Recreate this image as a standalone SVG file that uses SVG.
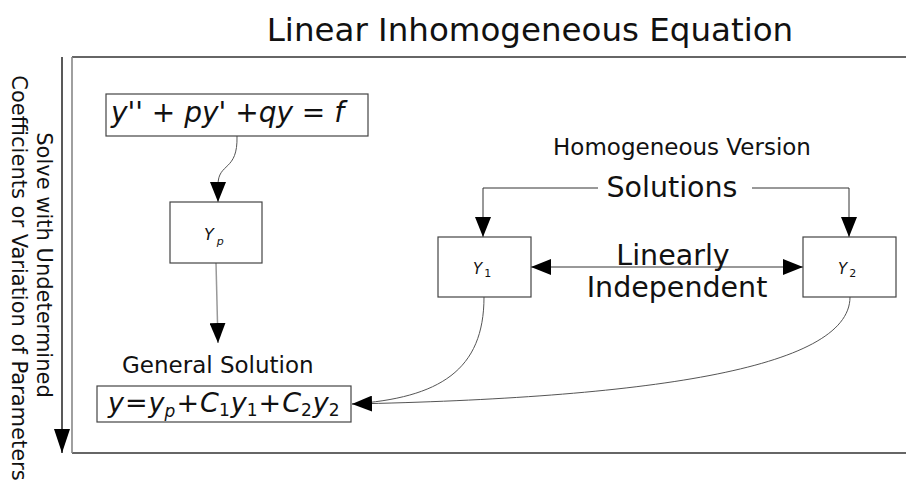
<svg xmlns="http://www.w3.org/2000/svg" width="906" height="491" viewBox="0 0 906 491">
<style>
text{font-family:"DejaVu Sans","Liberation Sans",sans-serif;fill:#111}
.box{fill:#fff;stroke:#444;stroke-width:1.2}
.ln{fill:none;stroke:#333;stroke-width:1}
.cv{fill:none;stroke:#555;stroke-width:1}
.it{font-style:italic}
.big{font-size:28.5px}
.sub{font-size:17px;font-style:normal}
.subi{font-size:17px;font-style:italic}
</style>
<defs>
<marker id="ah" viewBox="0 0 20 16" refX="20" refY="8" markerWidth="20" markerHeight="16" markerUnits="userSpaceOnUse" orient="auto-start-reverse"><path d="M0,0 L20,8 L0,16 z" fill="#000"/></marker>
<marker id="ahv" viewBox="0 0 24 16" refX="24" refY="8" markerWidth="24" markerHeight="16" markerUnits="userSpaceOnUse" orient="auto"><path d="M0,0 L24,8 L0,16 z" fill="#000"/></marker>
</defs>
<rect width="906" height="491" fill="#fff"/>
<text id="title" x="530" y="41" font-size="32.5" text-anchor="middle">Linear Inhomogeneous Equation</text>
<g id="frame">
<line x1="72" y1="57" x2="906" y2="57" stroke="#333" stroke-width="1.6"/>
<line x1="72" y1="453" x2="906" y2="453" stroke="#333" stroke-width="1.6"/>
<line x1="72" y1="57" x2="72" y2="453" stroke="#888" stroke-width="1.6"/>
</g>
<g id="side-label">
<text transform="rotate(90)" x="265" y="-37" font-size="21" text-anchor="middle">Solve with Undetermined</text>
<text transform="rotate(90)" x="278" y="-12" font-size="21" text-anchor="middle">Coefficients or Variation of Parameters</text>
</g>
<g id="connectors">
<line x1="62" y1="57" x2="62" y2="453" stroke="#222" stroke-width="1.5" marker-end="url(#ahv)"/>
<path class="cv" d="M237,136 C238,172 218,162 218,185 L218,202" marker-end="url(#ah)"/>
<path d="M216,263 L218,343" fill="none" stroke="#999" stroke-width="1.5" marker-end="url(#ah)"/>
<path class="ln" d="M598,188 H483 V237" marker-end="url(#ah)"/>
<path class="ln" d="M752,188 H849 V237" marker-end="url(#ah)"/>
<path class="ln" d="M531,267 H803" marker-start="url(#ah)" marker-end="url(#ah)"/>
<path class="cv" d="M484,297 C484,370 440,398 352,404"/>
<path class="cv" d="M850,297 C850,370 640,398 352,404" marker-end="url(#ah)"/>
</g>
<g id="n-eq">
<rect class="box" x="106" y="94" width="262" height="42"/>
<text class="it" x="111" y="122" font-size="28">y'' + py' +qy = f</text>
</g>
<g id="n-yp">
<rect class="box" x="170" y="202" width="92" height="61"/>
<text class="it" x="204" y="240" font-size="16">Y<tspan dx="3" dy="5" font-size="11">p</tspan></text>
</g>
<g id="n-general">
<text x="122" y="373" font-size="23">General Solution</text>
<rect class="box" x="97" y="386" width="254" height="36"/>
<text class="it" x="108" y="412" font-size="27">y<tspan style="font-style:normal" dx="1">=</tspan><tspan dx="1">y</tspan><tspan class="subi" dy="5">p</tspan><tspan style="font-style:normal" dy="-5" dx="1">+</tspan><tspan dx="1">C</tspan><tspan class="sub" dy="4">1</tspan><tspan dy="-4" dx="1">y</tspan><tspan class="sub" dy="4">1</tspan><tspan style="font-style:normal" dy="-4" dx="1">+</tspan><tspan dx="1">C</tspan><tspan class="sub" dy="4">2</tspan><tspan dy="-4" dx="1">y</tspan><tspan class="sub" dy="4">2</tspan></text>
</g>
<g id="n-homog">
<text x="682" y="155" font-size="23" text-anchor="middle">Homogeneous Version</text>
<text class="big" x="672" y="197" text-anchor="middle">Solutions</text>
</g>
<g id="n-y1">
<rect class="box" x="438" y="237" width="93" height="60"/>
<text class="it" x="473" y="274" font-size="15">Y<tspan dx="2" dy="3" font-size="11" style="font-style:normal">1</tspan></text>
</g>
<g id="n-y2">
<rect class="box" x="803" y="237" width="93" height="60"/>
<text class="it" x="838" y="274" font-size="15">Y<tspan dx="2" dy="3" font-size="11" style="font-style:normal">2</tspan></text>
</g>
<g id="n-linind">
<text class="big" x="673" y="265" text-anchor="middle">Linearly</text>
<text class="big" x="677" y="297" text-anchor="middle">Independent</text>
</g>
</svg>
